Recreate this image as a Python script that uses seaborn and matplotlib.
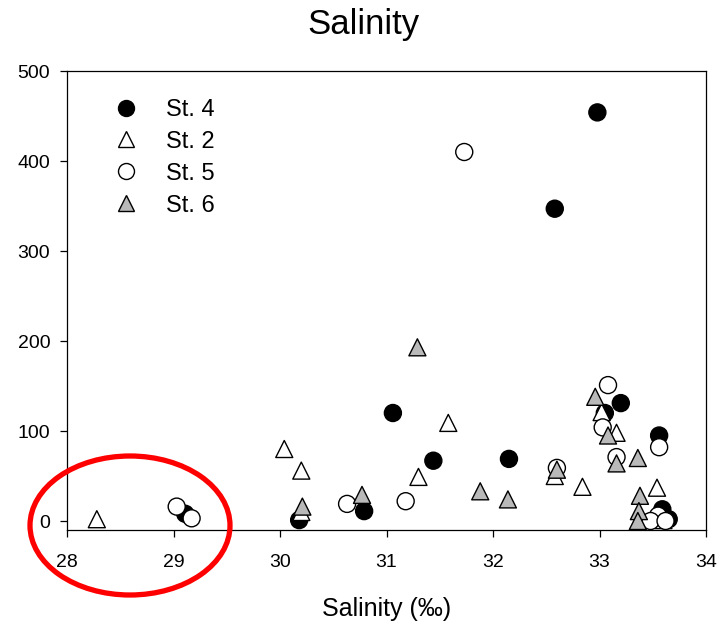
import matplotlib
matplotlib.use("Agg")
import matplotlib.pyplot as plt
from matplotlib.lines import Line2D
from matplotlib.patches import Ellipse
import seaborn as sns
import pandas as pd

# ---- data ----
st4_x = [29.11, 30.18, 30.79, 31.06, 31.44, 32.15, 32.58, 32.98, 33.05, 33.20, 33.56, 33.59, 33.65]
st4_y = [8, 1, 11, 120, 67, 69, 347, 454, 120, 131, 95, 13, 2]

st2_x = [28.28, 30.04, 30.20, 30.20, 31.30, 31.58, 32.58, 32.84, 33.02, 33.16, 33.54, 33.60]
st2_y = [2, 80, 56, 10, 49, 109, 50, 38, 121, 98, 37, 1]

st5_x = [29.03, 29.17, 30.63, 31.18, 31.73, 32.60, 33.08, 33.03, 33.16, 33.56, 33.55, 33.48, 33.62]
st5_y = [16, 3, 19, 22, 410, 59, 151, 104, 71, 82, 6, 0, 0]

st6_x = [30.21, 30.77, 31.29, 31.88, 32.14, 32.60, 32.96, 33.08, 33.16, 33.36, 33.38, 33.37, 33.36]
st6_y = [16, 29, 193, 33, 24, 57, 138, 95, 64, 70, 28, 11, 0]

stations = ["St. 4", "St. 2", "St. 5", "St. 6"]
x_ticks = [28, 29, 30, 31, 32, 33, 34]
y_ticks = [0, 100, 200, 300, 400, 500]

# ---- style ----
sns.set_style("ticks")
plt.rcParams["font.family"] = ["Liberation Sans", "DejaVu Sans"]
plt.rcParams["text.color"] = "black"
plt.rcParams["axes.labelcolor"] = "black"

markers = {"St. 4": "o", "St. 2": "^", "St. 5": "o", "St. 6": "^"}
faces = {"St. 4": "black", "St. 2": "white", "St. 5": "white", "St. 6": "#b9b9b9"}

frames = []
for name, xs, ys in zip(stations, [st4_x, st2_x, st5_x, st6_x], [st4_y, st2_y, st5_y, st6_y]):
    frames.append(pd.DataFrame({"salinity": xs, "value": ys, "station": name}))
df = pd.concat(frames, ignore_index=True)

fig = plt.figure(figsize=(7.22, 6.24), dpi=100)
ax = fig.add_axes([67 / 722, 1 - 530 / 624, (706 - 67) / 722, (530 - 71) / 624])

sns.scatterplot(data=df, x="salinity", y="value", hue="station", style="station",
                palette=faces, markers=markers, hue_order=stations, style_order=stations,
                s=150, edgecolor="black", linewidth=1.0, legend=False, ax=ax, zorder=3)

ax.set_xlim(28, 34)
ax.set_ylim(-10, 500)
ax.set_xticks(x_ticks)
ax.set_yticks(y_ticks)
ax.tick_params(axis="both", direction="out", length=5, width=0.9, colors="black",
               labelcolor="black", labelsize=14)
ax.tick_params(axis="y", pad=7)
ax.tick_params(axis="x", pad=12)
for sp in ax.spines.values():
    sp.set_visible(True)
    sp.set_linewidth(0.9)
    sp.set_color("black")

ax.set_xlabel("Salinity (\u2030)", fontsize=18, labelpad=19, color="black")
ax.set_ylabel("")
fig.text(0.504, 1 - 34 / 624, "Salinity", fontsize=25, ha="center", va="baseline",
         color="black")

handles = [Line2D([], [], linestyle="none", marker=markers[n], markerfacecolor=faces[n],
                  markeredgecolor="black", markeredgewidth=1.0, markersize=11.5)
           for n in stations]
ax.legend(handles, stations, loc="upper left", bbox_to_anchor=(0.055, 0.96),
          frameon=False, fontsize=17, handletextpad=1.1, labelspacing=0.42,
          handlelength=1.2, borderaxespad=0)

ell = Ellipse((130 / 722, 1 - 525.5 / 624), 200 / 722, 139 / 624,
              transform=fig.transFigure, fill=False, edgecolor="red",
              linewidth=3.8, clip_on=False, zorder=10)
fig.add_artist(ell)

fig.savefig("out.png", dpi=100)
